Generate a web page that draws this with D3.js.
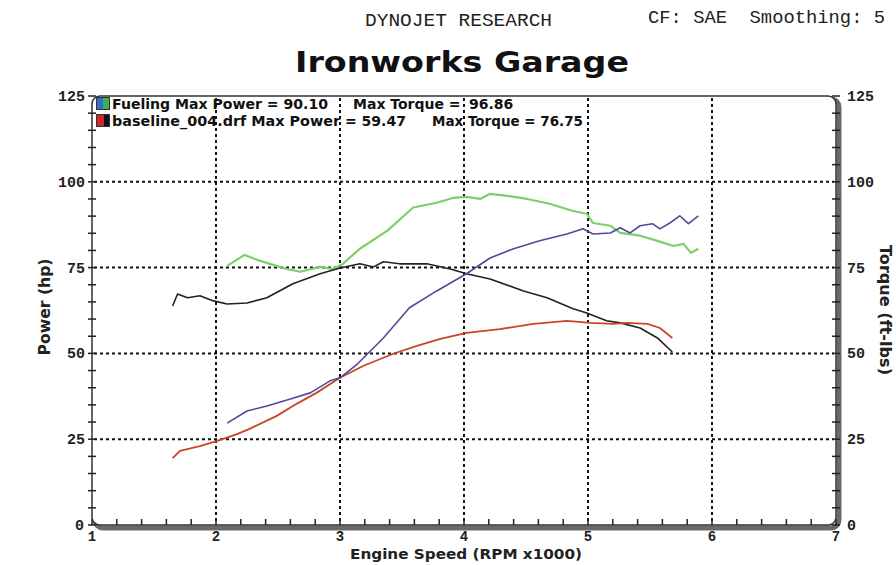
<!DOCTYPE html>
<html><head><meta charset="utf-8">
<script src="https://cdn.jsdelivr.net/npm/d3@7"></script>
<style>body{margin:0;background:#fff}svg{display:block}</style>
</head><body>
<svg id="c" width="896" height="565"></svg>
<script>
// ---- data ----
const xTicks = [1,2,3,4,5,6,7];
const yTicks = [0,25,50,75,100,125];
const gridX = [2,3,4,5,6];
const gridY = [25,50,75,100];

const fuelTorqueRpm = [2.09,2.23,2.33,2.44,2.57,2.68,2.84,2.94,3.02,3.16,3.38,3.59,3.78,3.91,4.02,4.13,4.21,4.35,4.51,4.69,4.88,4.99,5.04,5.18,5.26,5.42,5.56,5.69,5.77,5.83,5.89];
const fuelTorque    = [75.5,78.7,77.3,76,74.6,73.8,75.2,74.6,76,80.5,85.7,92.5,93.9,95.3,95.6,95,96.5,95.9,95,93.6,91.5,90.7,88,87.2,85.1,84.3,82.8,81.3,81.9,79.3,80.5];

const fuelPowerRpm = [2.09,2.25,2.41,2.60,2.76,2.92,3.00,3.14,3.35,3.56,3.78,4.02,4.21,4.40,4.61,4.83,4.96,5.04,5.18,5.26,5.34,5.42,5.52,5.58,5.66,5.74,5.81,5.89];
const fuelPower    = [29.7,33.2,34.7,36.7,38.5,42,42.9,46.9,54.5,63.3,68.2,73.2,77.8,80.5,82.8,84.8,86.3,84.8,85.1,86.6,85.1,87.2,87.8,86.3,88,90.1,87.8,90.1];

const baseTorqueRpm = [1.65,1.69,1.77,1.87,1.98,2.09,2.25,2.41,2.62,2.84,3.00,3.16,3.27,3.35,3.48,3.70,3.89,4.02,4.21,4.48,4.67,4.88,4.99,5.15,5.26,5.42,5.56,5.68];
const baseTorque    = [63.8,67.3,66.2,66.8,65.3,64.4,64.7,66.2,70.3,73.2,74.9,76.1,75.2,76.7,76.1,76.1,74.6,73.2,71.7,68.2,66.2,63,61.8,59.5,58.9,57.4,54.5,50.4];

const basePowerRpm = [1.65,1.71,1.87,2.01,2.17,2.27,2.49,2.65,2.81,3.00,3.19,3.43,3.62,3.81,4.02,4.29,4.56,4.83,5.02,5.20,5.31,5.48,5.58,5.68];
const basePower    = [19.5,21.6,23,24.5,26.5,28,31.8,35.3,38.5,42.9,46.4,49.9,52.2,54.2,56,57.1,58.6,59.5,58.9,58.6,58.9,58.6,57.4,54.5];

// ---- layout ----
const svg = d3.select("#c");
const L = 92, R = 836, T = 96, B = 525;
const x = d3.scaleLinear().domain([1,7]).range([L,R]);
const y = d3.scaleLinear().domain([0,125]).range([B,T]);

// header
svg.append("text").attr("x",365).attr("y",26)
  .attr("font-family","Liberation Mono, monospace").attr("font-size",18).attr("fill","#222")
  .attr("textLength",187).attr("lengthAdjust","spacingAndGlyphs")
  .text("DYNOJET RESEARCH");
svg.append("text").attr("x",648).attr("y",23)
  .attr("font-family","Liberation Mono, monospace").attr("font-size",18).attr("fill","#222")
  .attr("textLength",237).attr("lengthAdjust","spacingAndGlyphs")
  .attr("xml:space","preserve").text("CF: SAE  Smoothing: 5");
svg.append("text").attr("x",295).attr("y",72)
  .attr("font-family","DejaVu Sans, sans-serif").attr("font-weight","bold").attr("font-size",28).attr("fill","#111")
  .attr("textLength",334).attr("lengthAdjust","spacingAndGlyphs")
  .text("Ironworks Garage");

// frame shadow + frame
svg.append("rect").attr("x",L+3).attr("y",T+3).attr("width",R-L).attr("height",B-T)
  .attr("rx",8).attr("fill","none").attr("stroke","#6a6a6a").attr("stroke-width",5);
svg.append("rect").attr("x",L).attr("y",T).attr("width",R-L).attr("height",B-T)
  .attr("rx",8).attr("fill","#fff").attr("stroke","#333").attr("stroke-width",1.5);

// grid
const g = svg.append("g").attr("stroke","#111").attr("stroke-width",2).attr("stroke-dasharray","3,3");
gridX.forEach(v=>g.append("line").attr("x1",x(v)).attr("x2",x(v)).attr("y1",T+2).attr("y2",B-2));
gridY.forEach(v=>g.append("line").attr("x1",L+2).attr("x2",R-2).attr("y1",y(v)).attr("y2",y(v)));

// axis ticks
const minorY = d3.range(0,126,5);
const tk = svg.append("g").attr("stroke","#222").attr("stroke-width",1.5);
minorY.forEach(v=>{
  tk.append("line").attr("x1",L-4).attr("x2",L+4).attr("y1",y(v)).attr("y2",y(v));
  tk.append("line").attr("x1",R-4).attr("x2",R+4).attr("y1",y(v)).attr("y2",y(v));
});
const minorX = d3.range(1,7.001,0.2);
minorX.forEach(v=>tk.append("line").attr("x1",x(v)).attr("x2",x(v)).attr("y1",B-6).attr("y2",B));

// tick labels
const lab = {"font-family":"Liberation Mono, monospace","font-weight":"bold","font-size":15,"fill":"#222"};
function applyAttrs(s,o){for(const k in o) s.attr(k,o[k]); return s;}
yTicks.forEach(v=>{
  applyAttrs(svg.append("text"),lab).attr("x",v===0?84:85).attr("y",y(v)+5).attr("text-anchor","end").text(v);
  applyAttrs(svg.append("text"),lab).attr("x",847).attr("y",y(v)+5).text(v);
});
xTicks.forEach(v=>applyAttrs(svg.append("text"),lab).attr("x",x(v)).attr("y",541).attr("font-size",14).attr("text-anchor","middle").text(v));

// axis titles
const ttl = {"font-family":"DejaVu Sans, sans-serif","font-weight":"bold","font-size":15,"fill":"#222","text-anchor":"middle"};
applyAttrs(svg.append("text"),ttl).attr("transform","translate(50,307) rotate(-90)")
  .attr("textLength",97).attr("lengthAdjust","spacingAndGlyphs").text("Power (hp)");
applyAttrs(svg.append("text"),ttl).attr("transform","translate(880,310) rotate(90)")
  .attr("textLength",130).attr("lengthAdjust","spacingAndGlyphs").text("Torque (ft-lbs)");
applyAttrs(svg.append("text"),ttl).attr("x",466).attr("y",559).attr("font-size",14)
  .attr("textLength",232).attr("lengthAdjust","spacingAndGlyphs").text("Engine Speed (RPM x1000)");

// legend
const lg = {"font-family":"DejaVu Sans, sans-serif","font-weight":"bold","font-size":14,"fill":"#111"};
svg.append("rect").attr("x",97).attr("y",98).attr("width",6).attr("height",11).attr("fill","#2f6fd0");
svg.append("rect").attr("x",103).attr("y",98).attr("width",6).attr("height",11).attr("fill","#3fae55");
svg.append("rect").attr("x",96.5).attr("y",97.5).attr("width",13).attr("height",12).attr("fill","none").attr("stroke","#333");
svg.append("rect").attr("x",97).attr("y",115).attr("width",7).attr("height",11).attr("fill","#d2232a");
svg.append("rect").attr("x",104).attr("y",115).attr("width",5).attr("height",11).attr("fill","#111");
svg.append("rect").attr("x",96.5).attr("y",114.5).attr("width",13).attr("height",12).attr("fill","none").attr("stroke","#333");
applyAttrs(svg.append("text"),lg).attr("x",112).attr("y",109).attr("textLength",216).attr("lengthAdjust","spacingAndGlyphs").text("Fueling Max Power = 90.10");
applyAttrs(svg.append("text"),lg).attr("x",353).attr("y",109).text("Max Torque =");
applyAttrs(svg.append("text"),lg).attr("x",469).attr("y",109).text("96.86");
applyAttrs(svg.append("text"),lg).attr("x",112).attr("y",126).attr("textLength",228).attr("lengthAdjust","spacingAndGlyphs").text("baseline_004.drf Max Power");
applyAttrs(svg.append("text"),lg).attr("x",345).attr("y",126).text("= 59.47");
applyAttrs(svg.append("text"),lg).attr("x",432).attr("y",126).attr("textLength",151).attr("lengthAdjust","spacingAndGlyphs").text("Max Torque = 76.75");

// curves
const line = d3.line().x(d=>x(d[0])).y(d=>y(d[1]));
function draw(rpm, vals, color, w){
  svg.append("path").datum(rpm.map((r,i)=>[r,vals[i]])).attr("d",line)
    .attr("fill","none").attr("stroke",color).attr("stroke-width",w)
    .attr("stroke-linejoin","round");
}
draw(fuelTorqueRpm, fuelTorque, "#7ccf6a", 2.2);
draw(baseTorqueRpm, baseTorque, "#222", 1.6);
draw(basePowerRpm, basePower, "#c8452a", 1.8);
draw(fuelPowerRpm, fuelPower, "#4e4a9c", 1.6);
</script>
</body></html>
